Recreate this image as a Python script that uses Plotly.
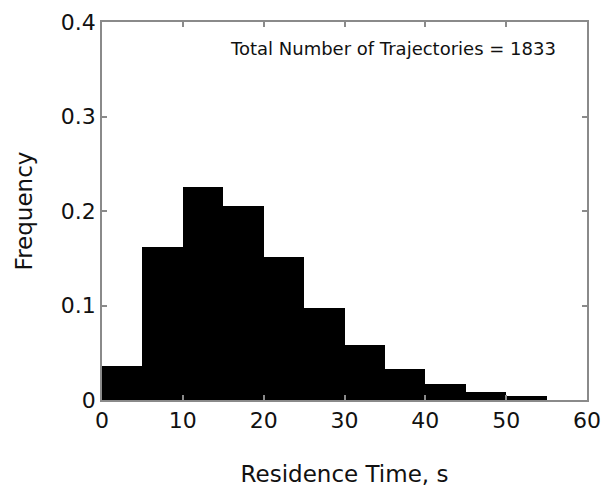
import plotly.graph_objects as go

# Residence time histogram (5 s bins)
bin_edges = [0, 5, 10, 15, 20, 25, 30, 35, 40, 45, 50, 55]
frequency = [0.036, 0.162, 0.225, 0.205, 0.151, 0.0975, 0.058, 0.033, 0.017, 0.0087, 0.004]
x_ticks = [0, 10, 20, 30, 40, 50, 60]
y_ticks = [0, 0.1, 0.2, 0.3, 0.4]
y_tick_text = ["0", "0.1", "0.2", "0.3", "0.4"]
n_trajectories = 1833

centers = [(a + b) / 2 for a, b in zip(bin_edges[:-1], bin_edges[1:])]
widths = [b - a for a, b in zip(bin_edges[:-1], bin_edges[1:])]

fig = go.Figure(
    go.Bar(
        x=centers,
        y=frequency,
        width=widths,
        marker=dict(color="black", line=dict(width=0)),
    )
)

axis_common = dict(
    showgrid=False,
    zeroline=False,
    showline=True,
    linecolor="#8a8a8a",
    linewidth=1.5,
    mirror="ticks",
    ticks="inside",
    ticklen=5,
    tickcolor="#8a8a8a",
    tickwidth=1.5,
    automargin=False,
    tickfont=dict(family="DejaVu Sans", size=22, color="#111"),
)

title_font = dict(family="DejaVu Sans", size=23, color="#111")

fig.update_xaxes(
    range=[0, 60],
    tickvals=x_ticks,
    title=dict(text="Residence Time, s", font=title_font, standoff=34),
    **axis_common,
)
fig.update_yaxes(
    range=[0, 0.4],
    tickvals=y_ticks,
    ticktext=y_tick_text,
    title=dict(text="Frequency", font=title_font, standoff=22),
    **axis_common,
)

fig.add_annotation(
    x=0.941, y=0.931, xref="paper", yref="paper",
    xanchor="right", yanchor="middle",
    text=f"Total Number of Trajectories = {n_trajectories}",
    showarrow=False,
    font=dict(family="DejaVu Sans", size=18, color="#111"),
)

fig.update_layout(
    width=602, height=489,
    margin=dict(l=102, r=15, t=22, b=89),
    plot_bgcolor="white", paper_bgcolor="white",
    bargap=0, showlegend=False,
)

fig.write_html("out.html")
